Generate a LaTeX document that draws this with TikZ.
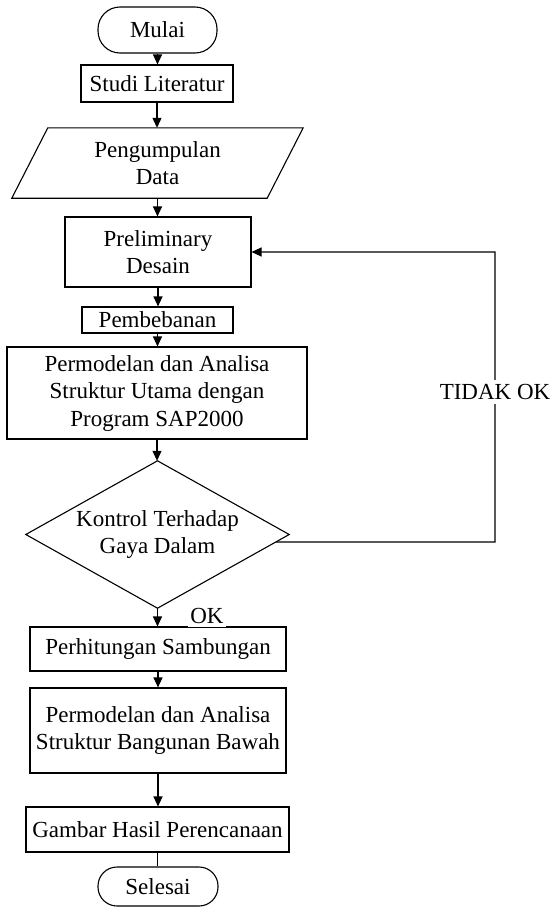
\documentclass[tikz,border=0pt]{standalone}
\usepackage{fontspec}
\setmainfont{Liberation Serif}
\usetikzlibrary{arrows.meta,calc}
\tikzset{
  base/.style={inner sep=0pt, align=center, font=\fontsize{23}{26.5}\selectfont},
  proc/.style={base, draw, line width=1.1pt},
  term/.style={base, draw, line width=1.1pt},
  ghost/.style={base, draw=none},
  arr/.style={line width=1.1pt, -{Triangle[length=10pt,width=9pt]}},
  link/.style={line width=1.1pt},
  lbl/.style={base, fill=white, inner xsep=2pt, inner ysep=4pt}
}
\begin{document}
\begin{tikzpicture}[x=1pt,y=-1pt]
\useasboundingbox (0,0) rectangle (557,908);
\node[term, rounded corners=22pt, minimum width=119pt, minimum height=46pt] (m) at (157.5,30) {Mulai};
\node[proc, minimum width=152pt, minimum height=37pt] (s) at (157,83.5) {Studi Literatur};
\node[ghost, minimum width=291pt, minimum height=70pt] (d) at (157.5,163) {Pengumpulan\\Data};
\draw[link] ($(d.north west)+(36,0)$) -- (d.north east) -- ($(d.south east)-(36,0)$) -- (d.south west) -- cycle;
\node[proc, minimum width=186pt, minimum height=70pt] (p) at (158,252) {Preliminary\\Desain};
\node[proc, minimum width=151pt, minimum height=26pt] (b) at (157.5,320) {Pembebanan};
\node[proc, minimum width=300pt, minimum height=92pt, font=\fontsize{23}{27.5}\selectfont] (u) at (157,393) {Permodelan dan Analisa\\Struktur Utama dengan\\Program SAP2000};
\node[ghost, minimum width=263pt, minimum height=147pt] (k) at (157.5,534.5) {Kontrol Terhadap\\Gaya Dalam};
\draw[link] (k.north) -- (k.east) -- (k.south) -- (k.west) -- cycle;
\node[proc, minimum width=256pt, minimum height=44pt] (h) at (158,649) {Perhitungan Sambungan};
\node[proc, minimum width=256pt, minimum height=85pt] (w) at (158,730.5) {Permodelan dan Analisa\\Struktur Bangunan Bawah};
\node[proc, minimum width=263pt, minimum height=45pt] (g) at (157.5,829.5) {Gambar Hasil Perencanaan};
\node[term, rounded corners=19pt, minimum width=120pt, minimum height=39pt] (e) at (158,886.5) {Selesai};
\coordinate (kx) at ($(k.east)!0.102!(k.south)$);
\coordinate (c1) at (495,542);
\coordinate (c2) at (495,252);
\draw[arr] (m.south) -- (m.south |- s.north);
\draw[arr] (s.south) -- (s.south |- d.north);
\draw[arr] (d.south) -- (d.south |- p.north);
\draw[arr] (p.south) -- (p.south |- b.north);
\draw[arr] (b.south) -- (b.south |- u.north);
\draw[arr] (u.south) -- (u.south |- k.north);
\draw[arr] (k.south) -- (k.south |- h.north);
\draw[arr] (h.south) -- (h.south |- w.north);
\draw[arr] (w.south) -- (w.south |- g.north);
\draw[link] (g.south) -- (g.south |- e.north);
\draw[arr] (kx) -- (c1) -- node[lbl, pos=0.517] (t) {TIDAK OK} (c2) -- (p.east);
\node[lbl, anchor=base] (ok) at (207,623) {OK};
\end{tikzpicture}
\end{document}
